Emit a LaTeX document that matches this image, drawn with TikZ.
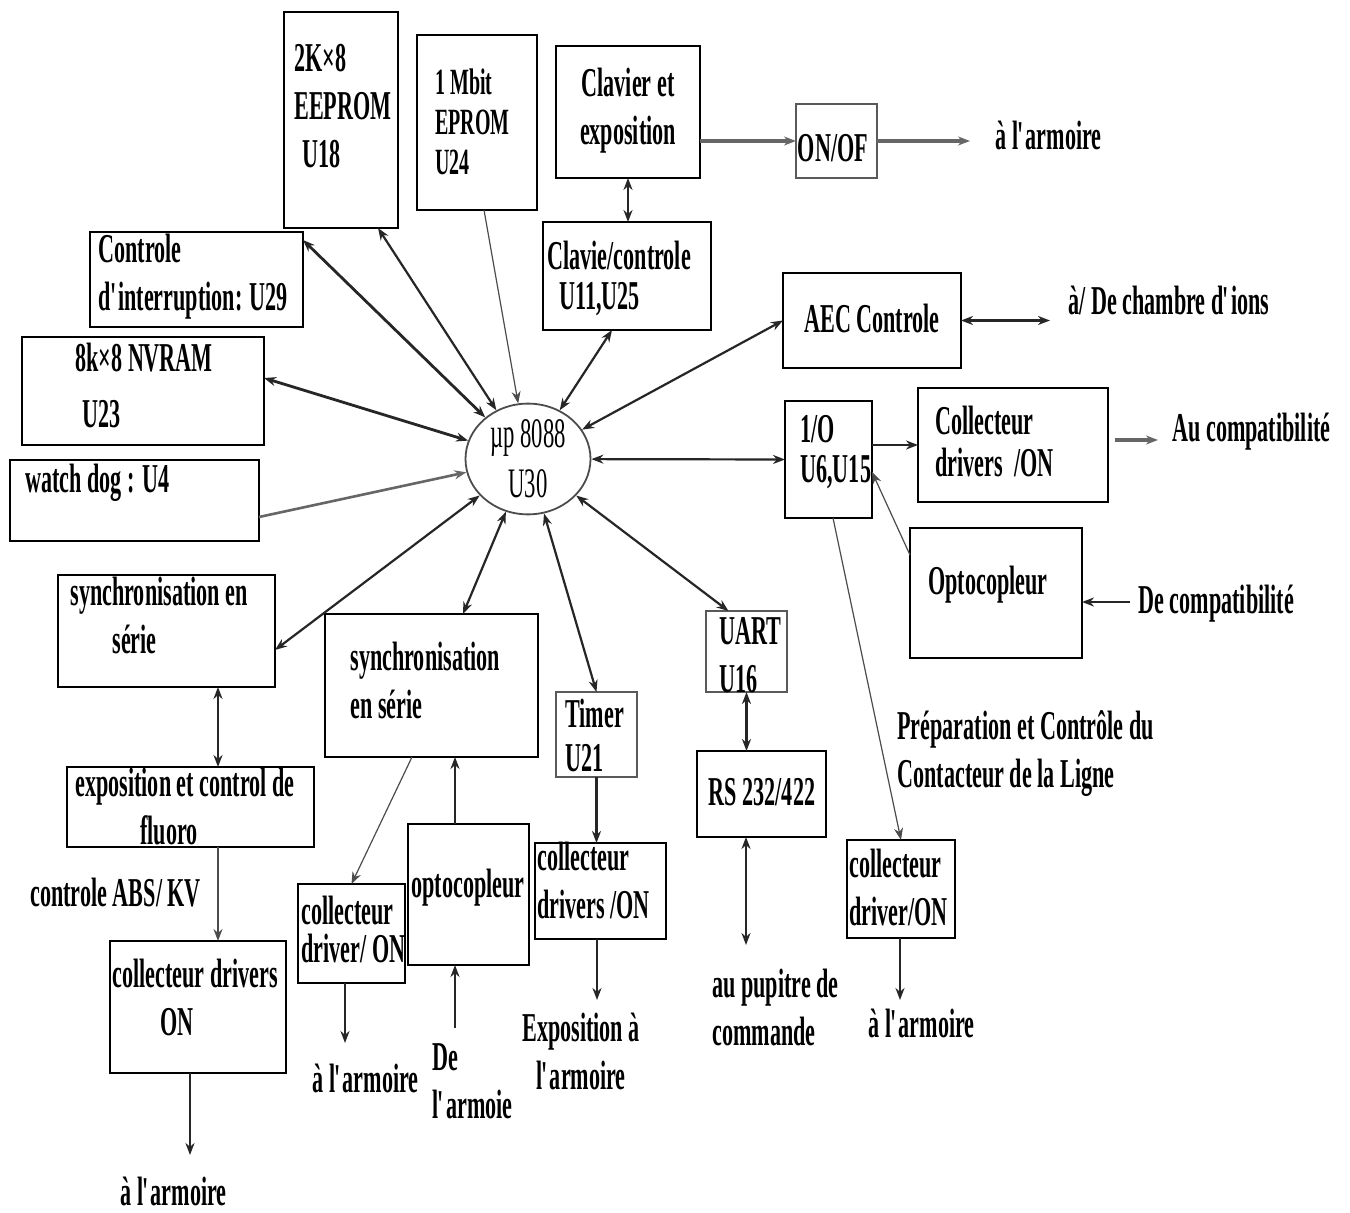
\documentclass[tikz,border=0pt]{standalone}
\usepackage{fontspec}
\setmainfont{Liberation Serif}[FakeStretch=0.54]
\newcommand\ap{\kern-0.3pt\textquotesingle\kern-1.6pt}
\usetikzlibrary{arrows.meta,shapes.geometric,calc}
\tikzset{
  box/.style={draw=black, line width=1pt, inner sep=0pt, outer sep=0pt, anchor=north west},
  gbox/.style={box, draw=black!65, line width=1.4pt},
  txt/.style={inner sep=0pt, font=\fontsize{20.5}{24}\selectfont\bfseries, align=left},
  ln/.style={line width=1.1pt, draw=black!85},
  gln/.style={line width=1.8pt, draw=black!60},
  thn/.style={line width=0.6pt, draw=black!70},
  arr/.style={-{Stealth[length=6pt,width=4.5pt]}},
  darr/.style={{Stealth[length=6pt,width=4.5pt]}-{Stealth[length=6pt,width=4.5pt]}},
}
\newcommand\bx[6][]{\node[box,#1,minimum width={(#4-#2)*0.5pt},minimum height={(#5-#3)*0.5pt}] (#6) at (#2,#3) {};}
\begin{document}
\begin{tikzpicture}[x=0.5pt,y=-0.5pt]
\useasboundingbox[fill=white] (0,0) rectangle (1350,1213);

% ---- boxes ----
\bx{284}{12}{398}{228}{eeprom}
\bx{417}{35}{537}{210}{eprom}
\bx{556}{46}{700}{178}{clav}
\bx[gbox]{796}{104}{877}{178}{onof}
\bx{543}{222}{711}{330}{clavc}
\bx{90}{232}{303}{327}{ci}
\bx{22}{337}{264}{445}{nvram}
\bx{10}{460}{259}{541}{wd}
\bx{783}{273}{961}{368}{aec}
\bx{785}{401}{872}{518}{io}
\bx{918}{388}{1108}{502}{coll}
\bx{910}{528}{1082}{658}{opto}
\bx{58}{575}{275}{687}{sl}
\bx{325}{614}{538}{757}{sm}
\bx[gbox]{556}{692}{637}{777}{timer}
\bx[gbox]{706}{611}{787}{692}{uart}
\bx{697}{751}{826}{837}{rs}
\bx{67}{767}{314}{847}{exp}
\bx{110}{941}{286}{1073}{cdon}
\bx{298}{884}{405}{983}{cd2}
\bx{408}{824}{529}{965}{opto2}
\bx{535}{843}{666}{939}{cd3}
\bx{847}{840}{955}{938}{cdr}

% ---- processor ----
\node[ellipse, draw=black!70, line width=0.9pt, minimum width=62.5pt, minimum height=49pt,
      inner sep=0pt, align=center, font=\fontsize{21}{25}\selectfont] (ell) at (528,459) {µp 8088\\U30};

% ---- texts ----
\node[txt, anchor=west] (t1) at (294,106) {2K×8\\EEPROM\\\hspace{4pt}U18};
\node[txt, anchor=west, font=\fontsize{18.5}{20}\selectfont\bfseries] (t2) at (435,122) {1 Mbit\\EPROM\\U24};
\node[txt, align=center] (t3) at (628,110.5) {Clavier et\\exposition};
\node[txt] (t4) at (833,148) {ON/OF};
\node[txt, anchor=west] (t5) at (995,135) {à l\ap armoire};
\node[txt, anchor=west, font=\fontsize{20.5}{20}\selectfont\bfseries] (t6) at (547,278) {Clavie/controle\\\hspace{6pt}U11,U25};
\node[txt, anchor=west] (t7) at (98,277) {Controle\\d\ap interruption: U29};
\node[txt, anchor=west, font=\fontsize{20.5}{28}\selectfont\bfseries] (t8) at (75,385) {8k×8 NVRAM\\\hspace{3.5pt}U23};
\node[txt, anchor=west] (t9) at (25,483) {watch dog : U4};
\node[txt] (t10) at (872,318) {AEC Controle};
\node[txt, anchor=west] (t11) at (1068,300) {à/ De chambre d\ap ions};
\node[txt, anchor=west, font=\fontsize{20.5}{20}\selectfont\bfseries] (t12) at (800,452) {1/O\\U6,U15};
\node[txt, anchor=west, font=\fontsize{20.5}{21}\selectfont\bfseries] (t13) at (935,441) {Collecteur\\drivers\ \ /ON};
\node[txt, anchor=west] (t14) at (1172,432) {Au compatibilité};
\node[txt, anchor=west] (t15) at (928,585) {Optocopleur};
\node[txt, anchor=west] (t16) at (1138,604) {De compatibilité};
\node[txt, anchor=west] (t17) at (70,615) {synchronisation en\\\hspace{21pt}série};
\node[txt, anchor=west] (t18) at (350,680) {synchronisation\\en série};
\node[txt, anchor=west, font=\fontsize{20.5}{22}\selectfont\bfseries] (t19) at (565,735) {Timer\\U21};
\node[txt, anchor=west] (t20) at (719,655) {UART\\U16};
\node[txt] (t21) at (762,792) {RS 232/422};
\node[txt, anchor=west] (t22) at (75,807) {exposition et control de\\\hspace{32.5pt}fluoro};
\node[txt, anchor=west] (t23) at (30,893) {controle ABS/ KV};
\node[txt, anchor=west] (t24) at (112,997) {collecteur drivers\\\hspace{24pt}ON};
\node[txt, anchor=west] (t25) at (120,1191) {à l\ap armoire};
\node[txt, anchor=west, font=\fontsize{20.5}{19}\selectfont\bfseries] (t26) at (301,929) {collecteur\\driver/ ON};
\node[txt, anchor=west] (t27) at (411,888) {optocopleur};
\node[txt, anchor=west] (t28) at (537,880) {collecteur\\drivers /ON};
\node[txt, anchor=west] (t29) at (312,1078) {à l\ap armoire};
\node[txt, anchor=west] (t30) at (432,1081) {De\\l\ap armoie};
\node[txt, align=center] (t31) at (581,1051) {Exposition à\\l\ap armoire};
\node[txt, anchor=west] (t32) at (712,1007) {au pupitre de\\commande};
\node[txt, anchor=west] (t33) at (849,887) {collecteur\\driver/ON};
\node[txt, anchor=west] (t34) at (868,1023) {à l\ap armoire};
\node[txt, anchor=west] (t35) at (897,754) {Préparation et Contrôle du\\Contacteur de la Ligne};

% ---- free ends ----
\coordinate (e1) at (970,141);
\coordinate (e2) at (1050,320.5);
\coordinate (e3a) at (1115,440);
\coordinate (e3b) at (1158,440);
\coordinate (e4) at (1130,602);
\coordinate (e5) at (900,1000);
\coordinate (e6) at (190,1155);
\coordinate (e7) at (345,1043);
\coordinate (e8) at (455,1028);
\coordinate (e9) at (597,1000);
\coordinate (e10) at (746,945);

% ---- connectors to processor ----
\draw[ln,darr] ([xshift=18.5pt]eeprom.south) -- (ell);
\draw[ln,darr,line width=1.4pt] ([yshift=-4pt]ci.north east) -- (ell);
\draw[thn,arr] ([xshift=3.5pt]eprom.south) -- (ell);
\draw[ln,darr] ([xshift=-7.5pt]clavc.south) -- (ell);
\draw[ln,darr] (aec.west) -- (ell);
\draw[ln,darr] (io.west) -- (ell);
\draw[ln,darr] ([xshift=-9pt]uart.north) -- (ell);
\draw[ln,darr] (timer.north) -- (ell);
\draw[ln,darr] ([xshift=15.75pt]sm.north) -- (ell);
\draw[ln,darr] ([yshift=-9.5pt]sl.east) -- (ell);
\draw[ln,darr,line width=1.4pt] ([yshift=6.5pt]nvram.east) -- (ell);
\draw[gln,arr,line width=1.3pt] ([yshift=-8.25pt]wd.east) -- (ell);

% ---- other connectors ----
\draw[ln,darr] (clav.south) -- (clav.south |- clavc.north);
\draw[gln,arr] (onof.west -| clav.east) -- (onof.west);
\draw[gln,arr] (onof.east) -- (e1);
\draw[ln,darr] (aec.east) -- (e2);
\draw[ln,arr] (io.east |- coll.west) -- (coll.west);
\draw[gln,arr] (e3a) -- (e3b);
\draw[ln,arr] (e4) -- (opto.east |- e4);
\draw[thn,arr] ([yshift=-13.5pt]opto.north west) -- ([yshift=-6.25pt]io.east);
\draw[thn,arr] ([xshift=2.25pt]io.south) -- (cdr.north);
\draw[ln,arr] (cdr.south -| e5) -- (e5);
\draw[ln,darr] ([xshift=25.75pt]sl.south) -- ([xshift=25.75pt]sl.south |- exp.north);
\draw[thn,arr] ([xshift=13.75pt]exp.south) -- ([xshift=13.75pt]exp.south |- cdon.north);
\draw[ln,arr] (cdon.south -| e6) -- (e6);
\draw[thn,arr] ([xshift=-9.75pt]sm.south) -- (cd2.north);
\draw[ln,arr] ([xshift=-6.75pt]opto2.north) -- ([xshift=-6.75pt]opto2.north |- sm.south);
\draw[ln,arr] (e8) -- (opto2.south -| e8);
\draw[ln,arr] (cd2.south -| e7) -- (e7);
\draw[ln,arr] (timer.south) -- (timer.south |- cd3.north);
\draw[ln,arr] (cd3.south -| e9) -- (e9);
\draw[ln,darr] (uart.south) -- (uart.south |- rs.north);
\draw[ln,darr] (rs.south -| e10) -- (e10);
\end{tikzpicture}
\end{document}
